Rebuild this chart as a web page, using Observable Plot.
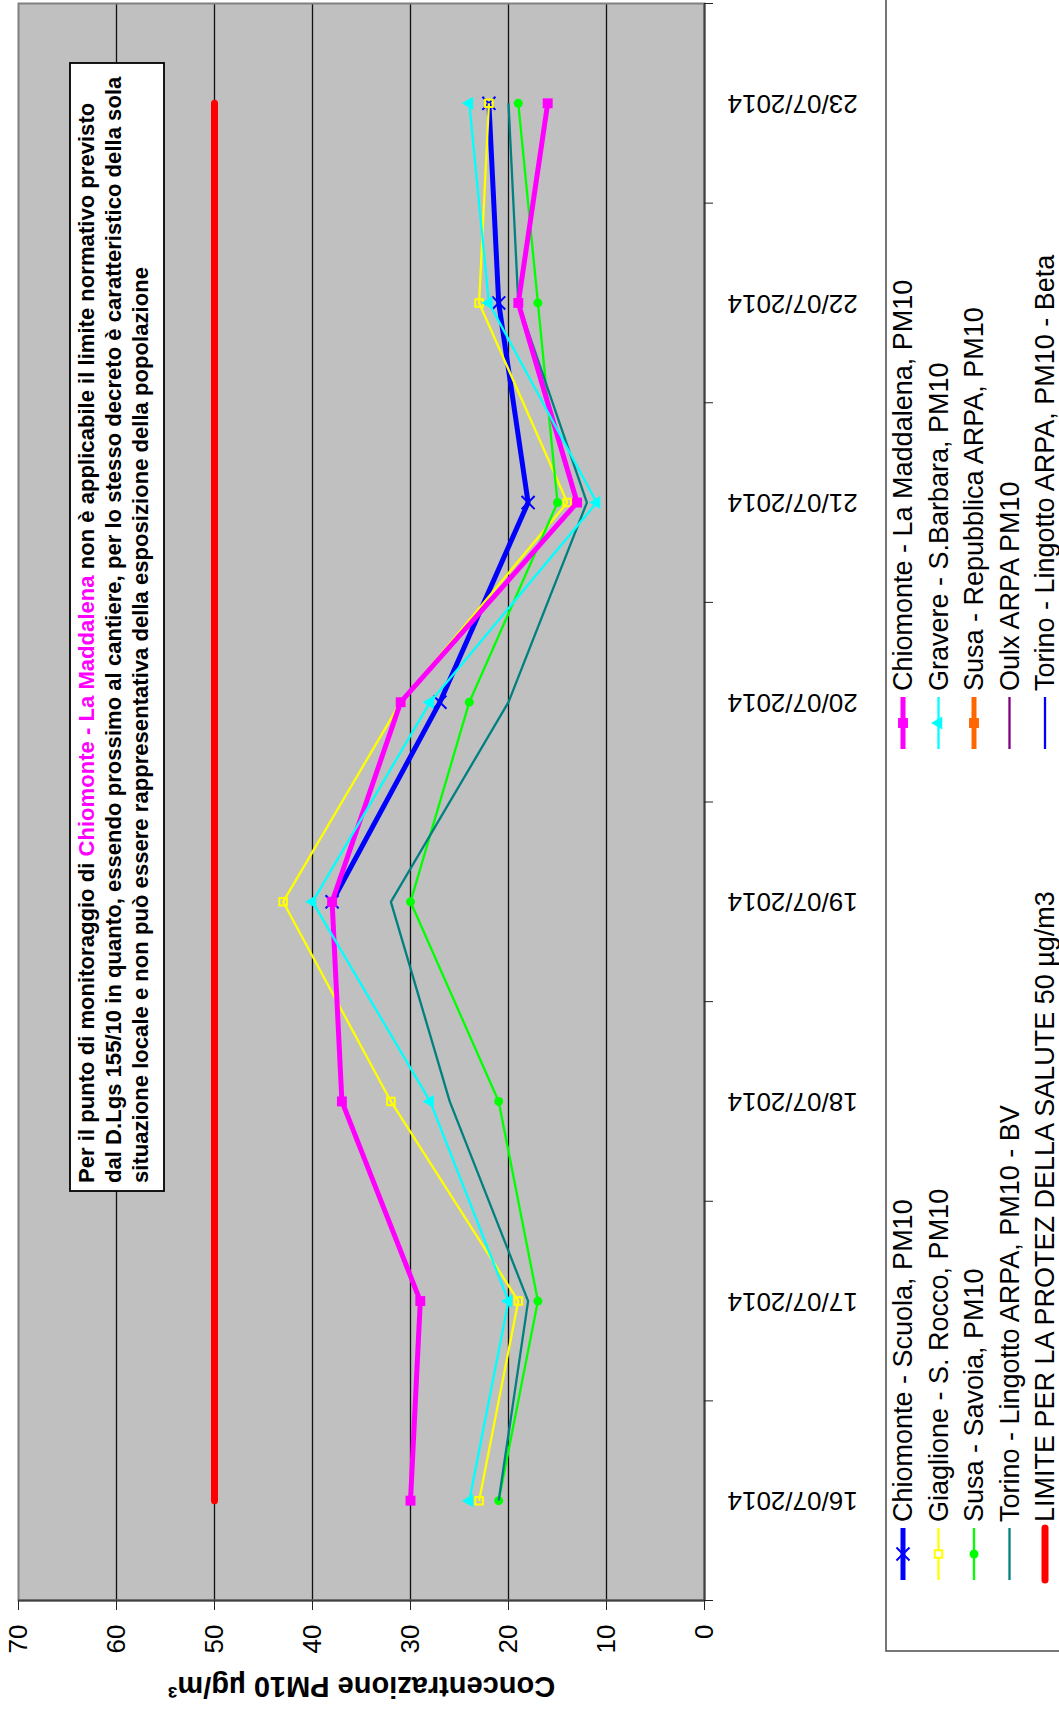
<!DOCTYPE html>
<html><head><meta charset="utf-8">
<script src="https://cdn.jsdelivr.net/npm/d3@7"></script>
<script src="https://cdn.jsdelivr.net/npm/@observablehq/plot@0.6"></script>
<style>
html,body{margin:0;padding:0;background:#fff;overflow:hidden;width:1059px;height:1715px;}
#wrap{position:absolute;left:0;top:0;width:1715px;height:1059px;transform-origin:0 0;transform:translate(0px,1715px) rotate(-90deg);}
</style></head><body><div id="wrap"></div>
<script>
// ---- data ----
const dates = ["16/07/2014","17/07/2014","18/07/2014","19/07/2014","20/07/2014","21/07/2014","22/07/2014","23/07/2014"];
const yTicks = [0,10,20,30,40,50,60,70];
const yTitle = "Concentrazione PM10 µg/m³";
const chiomonteScuola   = [null,null,null,38,27,18,21,22];
const giaglioneSRocco   = [23,19,32,43,31,14,23,22];
const susaSavoia        = [21,17,21,30,24,15,17,19];
const torinoLingottoBV  = [21,18,26,32,20,12,19,20];
const limiteSalute      = [50,50,50,50,50,50,50,50];
const chiomonteMaddalena= [30,29,37,38,31,13,19,16];
const gravereSBarbara   = [24,20,28,40,28,11,22,24];
const legendNames = [
  "Chiomonte - Scuola, PM10","Giaglione - S. Rocco, PM10","Susa - Savoia, PM10",
  "Torino - Lingotto ARPA, PM10 - BV","LIMITE PER LA PROTEZ DELLA SALUTE 50 µg/m3",
  "Chiomonte - La Maddalena, PM10","Gravere - S.Barbara, PM10","Susa - Repubblica ARPA, PM10",
  "Oulx ARPA PM10","Torino - Lingotto ARPA, PM10 - Beta"
];
const noteLines = [
  ["Per il punto di monitoraggio di ", "Chiomonte - La Maddalena", " non è applicabile il limite normativo previsto"],
  ["dal D.Lgs 155/10 in quanto, essendo prossimo al cantiere, per lo stesso decreto è caratteristico della sola"],
  ["situazione locale e non può essere rappresentativa della esposizione della popolazione"]
];

// ---- styles ----
const FONT = "'Liberation Sans', Arial, Helvetica, sans-serif";
const styles = [
  {color:"#0000FF", w:5,   symbol:"times",    fill:"none",    r:6},
  {color:"#FFFF00", w:2.3, symbol:"square",   fill:"none",    r:4.3},
  {color:"#00FF00", w:2.3, symbol:"circle",   fill:"#00FF00", r:4.5},
  {color:"#008080", w:2.3, symbol:null},
  {color:"#FF0000", w:7,   symbol:null, cap:"round"},
  {color:"#FF00FF", w:5,   symbol:"square",   fill:"#FF00FF", r:5.6},
  {color:"#00FFFF", w:2.3, symbol:"triangle", fill:"#00FFFF", r:4.8},
  {color:"#FF6600", w:5,   symbol:"square",   fill:"#FF6600", r:5.6},
  {color:"#800080", w:2.3, symbol:null},
  {color:"#0000FF", w:2.3, symbol:null}
];
const seriesData = [chiomonteScuola, giaglioneSRocco, susaSavoia, torinoLingottoBV, limiteSalute, chiomonteMaddalena, gravereSBarbara];

const X = (d,i) => i + 0.5;
const seriesMarks = [];
seriesData.forEach((arr, k) => {
  const s = styles[k];
  seriesMarks.push(Plot.line(arr, {x: X, y: d => d, stroke: s.color, strokeWidth: s.w, strokeLinecap: s.cap || "butt", strokeLinejoin: "miter"}));
  if (s.symbol) {
    const isStroke = s.symbol === "times";
    seriesMarks.push(Plot.dot(arr, {x: X, y: d => d, symbol: s.symbol, r: s.r,
      fill: isStroke ? "none" : s.fill, stroke: isStroke || s.fill === "none" ? s.color : "none",
      strokeWidth: 2}));
  }
});

const chart = Plot.plot({
  width: 1715, height: 1059,
  marginLeft: 114, marginRight: 4, marginTop: 18, marginBottom: 355,
  style: {fontFamily: FONT, fontSize: "26px", color: "#000", background: "#fff", overflow: "visible"},
  x: {domain: [0, 8], axis: null},
  y: {domain: [0, 70], axis: null},
  marks: [
    Plot.frame({fill: "#C0C0C0", stroke: "none"}),
    Plot.ruleY([10,20,30,40,50,60], {stroke: "#111", strokeWidth: 1.3}),
    Plot.frame({stroke: "#808080", strokeWidth: 2}),
    Plot.ruleY([0], {stroke: "#404040", strokeWidth: 2}),
    Plot.ruleX([0], {stroke: "#404040", strokeWidth: 2}),
    Plot.axisY({ticks: yTicks, tickSize: 9, tickPadding: 15, label: null, stroke: "#222"}),
    Plot.axisX({ticks: d3.range(dates.length + 1), tickSize: 9, tickFormat: () => "", label: null, stroke: "#222"}),
    Plot.axisX({ticks: dates.map((d,i) => i + 0.5), tickSize: 0, tickPadding: 23, tickRotate: -90,
      tickFormat: v => dates[Math.floor(v)], label: null}),
    Plot.text([yTitle], {frameAnchor: "left", dx: -86, rotate: -90, textAnchor: "middle", fontWeight: "bold", fontSize: 29}),
    ...seriesMarks
  ]
});
document.getElementById("wrap").appendChild(chart);

// ---- annotation box ----
const svg = d3.select(chart);
const note = svg.append("g").attr("text-anchor", "start");
note.append("rect").attr("x", 524).attr("y", 70).attr("width", 1128).attr("height", 94)
  .attr("fill", "#fff").attr("stroke", "#000").attr("stroke-width", 1.8);
const lineY = [86, 113, 140];
noteLines.forEach((parts, j) => {
  const t = note.append("text").attr("x", 532).attr("y", lineY[j]).attr("dy", "0.35em")
    .attr("text-anchor", "start")
    .attr("font-family", FONT).attr("font-weight", "bold").attr("font-size", 22.1).attr("fill", "#000");
  parts.forEach((p, q) => t.append("tspan").text(p).attr("fill", (parts.length === 3 && q === 1) ? "#FF00FF" : "#000"));
});

// ---- legend ----
const leg = svg.append("g").attr("text-anchor", "start");
leg.append("rect").attr("x", 64).attr("y", 886).attr("width", 1700).attr("height", 200)
  .attr("fill", "#fff").attr("stroke", "#555").attr("stroke-width", 1.6);
const colX = [135, 966];
const rowY = [903, 938.5, 974, 1009.5, 1045];
legendNames.forEach((name, k) => {
  const s = styles[k];
  const cx = colX[Math.floor(k / 5)], cy = rowY[k % 5];
  leg.append("line").attr("x1", cx).attr("x2", cx + 52).attr("y1", cy).attr("y2", cy)
    .attr("stroke", s.color).attr("stroke-width", s.w).attr("stroke-linecap", s.cap || "butt");
  if (s.symbol) {
    const typ = {times: d3.symbolTimes, square: d3.symbolSquare, circle: d3.symbolCircle, triangle: d3.symbolTriangle}[s.symbol];
    const isStroke = s.symbol === "times";
    leg.append("path").attr("d", d3.symbol(typ, s.r * s.r * Math.PI)())
      .attr("transform", `translate(${cx + 26},${cy})`)
      .attr("fill", isStroke ? "none" : (s.fill === "none" ? "#fff" : s.fill))
      .attr("stroke", isStroke || s.fill === "none" ? s.color : "none").attr("stroke-width", 2);
  }
  leg.append("text").attr("x", cx + 58).attr("y", cy).attr("dy", "0.35em").attr("text-anchor", "start")
    .attr("font-family", FONT).attr("font-size", 27).attr("fill", "#000").text(name);
});
</script></body></html>
